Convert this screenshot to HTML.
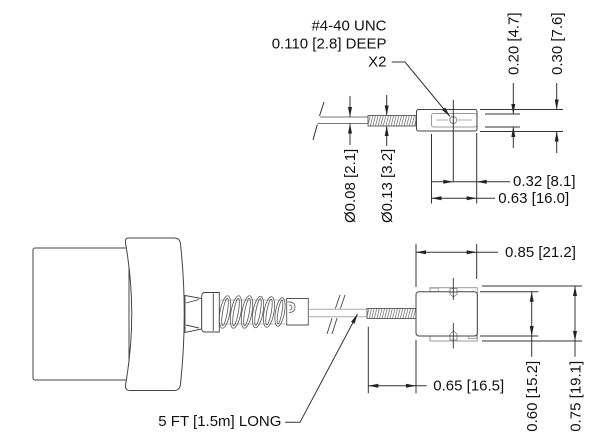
<!DOCTYPE html>
<html>
<head>
<meta charset="utf-8">
<style>
  html,body{margin:0;padding:0;background:#fff;}
  svg{display:block;}
  text{font-family:"Liberation Sans",Arial,sans-serif;font-size:15px;fill:#111;}
</style>
</head>
<body>
<svg width="612" height="444" viewBox="0 0 612 444" xmlns="http://www.w3.org/2000/svg">
  <defs>
    <pattern id="thr" width="2.6" height="40" patternUnits="userSpaceOnUse" patternTransform="skewX(-14)">
      <line x1="1.3" y1="0" x2="1.3" y2="40" stroke="#777" stroke-width="0.8"/>
    </pattern>
  </defs>
  <rect width="612" height="444" fill="#fff"/>

  <!-- ================= TOP VIEW ================= -->
  <g stroke="#333" stroke-width="1" fill="none">
    <!-- break line -->
    <line x1="324" y1="102" x2="319.5" y2="116"/>
    <line x1="317.3" y1="124.5" x2="313" y2="140"/>
    <!-- cable -->
    <line x1="320" y1="117" x2="368" y2="117" stroke="#777"/>
    <line x1="317.5" y1="123.5" x2="368" y2="123.5" stroke="#777"/>
    <!-- dia dims -->
    <line x1="350" y1="96" x2="350" y2="117"/>
    <line x1="350" y1="123.5" x2="350" y2="145"/>
    <line x1="386.7" y1="95" x2="386.7" y2="115.5"/>
    <line x1="386.7" y1="126" x2="386.7" y2="146"/>
  </g>
  <!-- stud -->
  <rect x="368" y="115.5" width="48" height="10.5" fill="url(#thr)" stroke="#555" stroke-width="0.9"/>
  <!-- connector top -->
  <rect x="416.5" y="109.5" width="60.5" height="21.5" rx="2" fill="#fff" stroke="#444" stroke-width="1"/>
  <rect x="431.5" y="113.5" width="45" height="13.5" rx="2" fill="none" stroke="#999" stroke-width="1"/>
  <g stroke="#999" stroke-width="0.8">
    <line x1="436" y1="120" x2="448.5" y2="120"/>
    <line x1="458" y1="120" x2="472" y2="120"/>
  </g>
  <circle cx="453.3" cy="120" r="3.5" fill="#fff" stroke="#888" stroke-width="1"/>
  <g stroke="#333" stroke-width="1" fill="none">
    <line x1="453.3" y1="100" x2="453.3" y2="182"/>
    <!-- extension lines below -->
    <line x1="431.5" y1="134" x2="431.5" y2="203.5"/>
    <line x1="476.7" y1="133" x2="476.7" y2="203.5"/>
    <!-- 0.32 -->
    <line x1="431.5" y1="181.7" x2="510" y2="181.7"/>
    <!-- 0.63 -->
    <line x1="431.5" y1="198.3" x2="495" y2="198.3"/>
    <!-- right extension lines -->
    <line x1="480" y1="109.5" x2="563" y2="109.5"/>
    <line x1="480" y1="131.5" x2="563" y2="131.5"/>
    <line x1="485" y1="114" x2="520" y2="114"/>
    <line x1="485" y1="127" x2="520" y2="127"/>
    <!-- 0.20 -->
    <line x1="513.3" y1="83" x2="513.3" y2="114"/>
    <line x1="513.3" y1="127" x2="513.3" y2="148"/>
    <!-- 0.30 -->
    <line x1="556.7" y1="83" x2="556.7" y2="109.5"/>
    <line x1="556.7" y1="131.5" x2="556.7" y2="153"/>
    <!-- leader X2 -->
    <polyline points="391.7,62 405,62 450,116.5"/>
  </g>
  <g fill="#222" stroke="none">
    <polygon points="350,117 348,107 352,107"/>
    <polygon points="350,123.5 348,133.5 352,133.5"/>
    <polygon points="386.7,115.5 384.7,105.5 388.7,105.5"/>
    <polygon points="386.7,126 384.7,136 388.7,136"/>
    <polygon points="453.3,181.7 443.3,179.7 443.3,183.7"/>
    <polygon points="476.7,181.7 486.7,179.7 486.7,183.7"/>
    <polygon points="431.5,198.3 441.5,196.3 441.5,200.3"/>
    <polygon points="476.7,198.3 466.7,196.3 466.7,200.3"/>
    <polygon points="513.3,114 511.3,104 515.3,104"/>
    <polygon points="513.3,127 511.3,137 515.3,137"/>
    <polygon points="556.7,109.5 554.7,99.5 558.7,99.5"/>
    <polygon points="556.7,131.5 554.7,141.5 558.7,141.5"/>
    <polygon points="450,116.5 442.1,110.06 445.18,107.52"/>
  </g>
  <!-- top texts -->
  <text x="386.5" y="30.7" text-anchor="end">#4-40 UNC</text>
  <text x="386.5" y="48.3" text-anchor="end">0.110 [2.8] DEEP</text>
  <text x="386.5" y="66.7" text-anchor="end">X2</text>
  <text x="513" y="186">0.32 [8.1]</text>
  <text x="498.3" y="202.8">0.63 [16.0]</text>
  <text transform="translate(355,223) rotate(-90)">Ø0.08 [2.1]</text>
  <text transform="translate(392,223) rotate(-90)">Ø0.13 [3.2]</text>
  <text transform="translate(518.5,75) rotate(-90)">0.20 [4.7]</text>
  <text transform="translate(562,75) rotate(-90)">0.30 [7.6]</text>

  <!-- ================= BOTTOM VIEW ================= -->
  <!-- body -->
  <rect x="33" y="248" width="96" height="132" rx="2" fill="#fff" stroke="#444" stroke-width="1"/>
  <!-- cap -->
  <path d="M128,238 L174,238 Q180,238 180.5,244 Q188,314 180.5,384 Q180,390.5 174,390.5 L130,390.5 Q125,390.5 125.5,385 Q138,314 125.5,243 Q125,238 128,238 Z" fill="#fff" stroke="#444" stroke-width="1"/>
  <!-- cone -->
  <g stroke="#444" stroke-width="0.9" fill="#fff">
    <polygon points="185,295.5 201.7,298.5 201.7,329 185,332.5"/>
    <line x1="186" y1="303" x2="199" y2="299.5"/>
    <line x1="186" y1="325" x2="199" y2="328"/>
    <!-- collar -->
    <path d="M205,292.5 L219.3,292.5 L219.3,332 L205,332 Q201.7,332 201.7,328.5 L201.7,296 Q201.7,292.5 205,292.5 Z"/>
    <line x1="213.3" y1="293.5" x2="213.3" y2="331"/>
  </g>
  <!-- spring -->
  <g stroke="#555" stroke-width="0.8" fill="none">
    <line x1="219.3" y1="300" x2="287" y2="300" stroke="#aaa"/>
    <line x1="219.3" y1="324" x2="287" y2="324" stroke="#aaa"/>
    <ellipse cx="225" cy="312" rx="5" ry="16.5" transform="rotate(10 225 312)"/>
    <ellipse cx="225" cy="312" rx="2.3" ry="14" transform="rotate(10 225 312)"/>
    <ellipse cx="236" cy="312" rx="5" ry="16.5" transform="rotate(10 236 312)"/>
    <ellipse cx="236" cy="312" rx="2.3" ry="14" transform="rotate(10 236 312)"/>
    <ellipse cx="247" cy="312" rx="5" ry="16.5" transform="rotate(10 247 312)"/>
    <ellipse cx="247" cy="312" rx="2.3" ry="14" transform="rotate(10 247 312)"/>
    <ellipse cx="258" cy="312" rx="5" ry="16" transform="rotate(10 258 312)"/>
    <ellipse cx="258" cy="312" rx="2.3" ry="13.5" transform="rotate(10 258 312)"/>
    <ellipse cx="269" cy="312" rx="5" ry="15.5" transform="rotate(10 269 312)"/>
    <ellipse cx="269" cy="312" rx="2.3" ry="13" transform="rotate(10 269 312)"/>
    <ellipse cx="280" cy="312" rx="4.5" ry="14.5" transform="rotate(10 280 312)"/>
    <ellipse cx="280" cy="312" rx="2" ry="12" transform="rotate(10 280 312)"/>
  </g>
  <!-- end piece -->
  <path d="M286.7,298.5 L308.3,298.5 L308.3,325 L286.7,325 Z" fill="#fff" stroke="#555" stroke-width="0.9"/>
  <path d="M287.5,302 Q295,301.5 295,307 Q295,312.5 289,312.5 M289,305 Q292,305 292,307.5 Q292,310 289.5,310" fill="none" stroke="#555" stroke-width="0.8"/>
  <!-- cable -->
  <g stroke="#aaa" stroke-width="1">
    <line x1="308.3" y1="309.3" x2="367" y2="309.3"/>
    <line x1="308.3" y1="316.7" x2="367" y2="316.7"/>
  </g>
  <!-- break lines -->
  <g stroke="#444" stroke-width="0.9">
    <line x1="340" y1="295" x2="335.4" y2="308.5"/>
    <line x1="332.1" y1="318" x2="327" y2="334"/>
    <line x1="345" y1="295" x2="340.4" y2="308.5"/>
    <line x1="337.1" y1="318" x2="332" y2="334"/>
  </g>
  <!-- stud -->
  <rect x="367" y="308.5" width="49" height="10" fill="url(#thr)" stroke="#555" stroke-width="0.9"/>
  <!-- connector -->
  <rect x="430" y="287.7" width="47.3" height="53.3" fill="#fff" stroke="#999" stroke-width="1"/>
  <rect x="430" y="288.2" width="8.3" height="3.5" fill="#fff" stroke="#999" stroke-width="0.8"/>
  <rect x="468.3" y="336" width="8.4" height="2.6" fill="#fff" stroke="#999" stroke-width="0.8"/>
  <rect x="416" y="291.7" width="61.3" height="44.3" rx="3" fill="#fff" stroke="#444" stroke-width="1"/>
  <!-- screws -->
  <g stroke="#777" stroke-width="0.8" fill="#fff">
    <path d="M450,288.5 L457,288.5 L457,294 L453.5,297 L450,294 Z"/>
    <path d="M450,340 L457,340 L457,334 L453.5,331 L450,334 Z"/>
  </g>
  <g stroke="#333" stroke-width="0.9">
    <line x1="453.3" y1="278" x2="453.3" y2="300"/>
    <line x1="453.3" y1="323" x2="453.3" y2="348.5"/>
    <line x1="449" y1="292" x2="457.5" y2="292"/>
    <line x1="449" y1="336" x2="457.5" y2="336"/>
  </g>
  <g stroke="#333" stroke-width="1" fill="none">
    <!-- 0.85 -->
    <line x1="416" y1="244" x2="416" y2="287"/>
    <line x1="476.7" y1="244" x2="476.7" y2="279"/>
    <line x1="416" y1="252.3" x2="498" y2="252.3"/>
    <!-- right extension lines -->
    <line x1="482" y1="286" x2="582" y2="286"/>
    <line x1="480" y1="291.7" x2="538.3" y2="291.7"/>
    <line x1="480" y1="336" x2="538.3" y2="336"/>
    <line x1="482" y1="341" x2="582" y2="341"/>
    <!-- 0.60 / 0.75 -->
    <line x1="531.7" y1="291.7" x2="531.7" y2="356.7"/>
    <line x1="575" y1="286" x2="575" y2="356.7"/>
    <!-- 0.65 -->
    <line x1="368.3" y1="326.7" x2="368.3" y2="393.3"/>
    <line x1="416" y1="340" x2="416" y2="393.3"/>
    <line x1="368.3" y1="385.7" x2="426.7" y2="385.7"/>
    <!-- leader 5 FT -->
    <polyline points="285,422.3 300,422.3 357.5,314"/>
  </g>
  <g fill="#222" stroke="none">
    <polygon points="416,252.3 426,250.3 426,254.3"/>
    <polygon points="476.7,252.3 466.7,250.3 466.7,254.3"/>
    <polygon points="531.7,291.7 529.7,301.7 533.7,301.7"/>
    <polygon points="531.7,336 529.7,326 533.7,326"/>
    <polygon points="575,286 573,296 577,296"/>
    <polygon points="575,341 573,331 577,331"/>
    <polygon points="368.3,385.7 378.3,383.7 378.3,387.7"/>
    <polygon points="416,385.7 406,383.7 406,387.7"/>
    <polygon points="357.5,314 354.58,323.77 351.04,321.89"/>
  </g>
  <text x="505" y="257">0.85 [21.2]</text>
  <text x="433.3" y="390.7">0.65 [16.5]</text>
  <text x="158.3" y="426">5 FT [1.5m] LONG</text>
  <text transform="translate(537,431.7) rotate(-90)">0.60 [15.2]</text>
  <text transform="translate(580.5,431.7) rotate(-90)">0.75 [19.1]</text>
</svg>
</body>
</html>
